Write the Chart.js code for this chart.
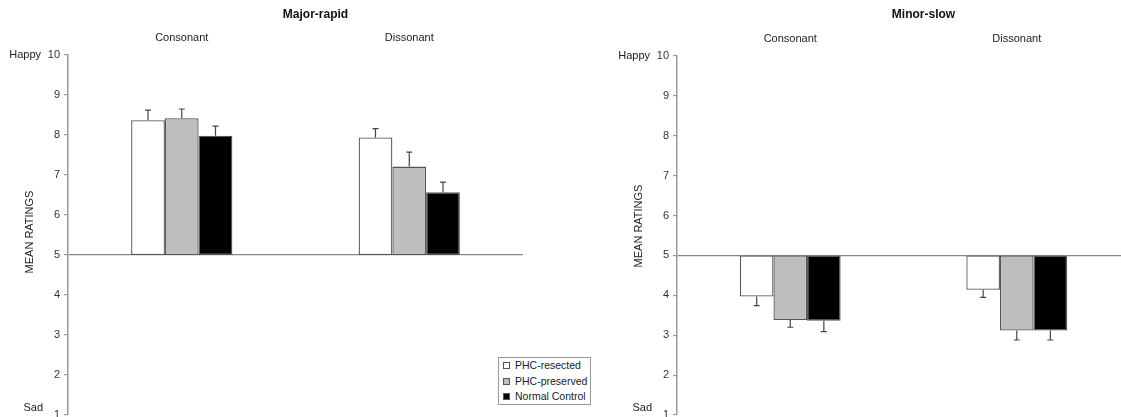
<!DOCTYPE html>
<html>
<head>
<meta charset="utf-8">
<script src="https://cdn.jsdelivr.net/npm/chart.js@4/dist/chart.umd.min.js"></script>
<style>
    html, body { margin: 0; padding: 0; background: #fff; }
    body { width: 1121px; height: 417px; overflow: hidden; position: relative; font-family: "Liberation Sans", Arial, sans-serif; }
    #left-wrap { position: absolute; left: 0; top: 0; width: 600px; height: 430px; }
    #right-wrap { position: absolute; left: 600px; top: 0; width: 560px; height: 430px; }
    #legend { position: absolute; left: 498px; top: 357px; width: 91px; height: 46px; border: 1px solid #999; background: #fff; }
    .legend-row { height: 15.5px; line-height: 15.5px; font-size: 10.5px; color: #222; white-space: nowrap; padding-left: 4px; }
    .legend-box { display: inline-block; width: 5px; height: 5px; border: 1px solid #555; margin-right: 5px; vertical-align: 0px; }
</style>
</head>
<body>
<div id="left-wrap"><canvas id="major-chart" width="600" height="430"></canvas></div>
<div id="right-wrap"><canvas id="minor-chart" width="560" height="430"></canvas></div>
<div id="legend"></div>
<script>
const categories = ['Consonant', 'Dissonant'];
const seriesNames = ['PHC-resected', 'PHC-preserved', 'Normal Control'];
const seriesColors = ['#ffffff', '#bebebe', '#000000'];
const BASELINE = 5;
const Y_MIN = 1;
const Y_MAX = 10;

// Major-rapid
const majorResected = [8.37, 7.94];
const majorPreserved = [8.42, 7.21];
const majorControl = [7.98, 6.57];
const majorResectedErr = [0.25, 0.22];
const majorPreservedErr = [0.23, 0.36];
const majorControlErr = [0.24, 0.25];

// Minor-slow
const minorResected = [3.97, 4.14];
const minorPreserved = [3.38, 3.12];
const minorControl = [3.36, 3.12];
const minorResectedErr = [0.23, 0.19];
const minorPreservedErr = [0.18, 0.24];
const minorControlErr = [0.27, 0.24];

const FONT = '"Liberation Sans", Arial, sans-serif';

// error bars, drawn away from the baseline
const errorBarPlugin = {
    id: 'errorBars',
    afterDatasetsDraw(chart) {
        const ctx = chart.ctx;
        const yScale = chart.scales.y;
        ctx.save();
        ctx.strokeStyle = '#444';
        ctx.lineWidth = 1.2;
        chart.data.datasets.forEach((ds, i) => {
            const meta = chart.getDatasetMeta(i);
            meta.data.forEach((bar, j) => {
                const value = ds.data[j][1];
                const dir = value >= BASELINE ? 1 : -1;
                const y0 = yScale.getPixelForValue(value);
                const y1 = yScale.getPixelForValue(value + dir * ds.errors[j]);
                ctx.beginPath();
                ctx.moveTo(bar.x, y0);
                ctx.lineTo(bar.x, y1);
                ctx.moveTo(bar.x - 3, y1);
                ctx.lineTo(bar.x + 3, y1);
                ctx.stroke();
            });
        });
        ctx.restore();
    }
};

// title, Happy / Sad and the rotated axis label
const sideTextPlugin = {
    id: 'sideText',
    afterDraw(chart, args, opts) {
        const ctx = chart.ctx;
        const area = chart.chartArea;
        const yScale = chart.scales.y;
        ctx.save();
        ctx.fillStyle = '#111';
        ctx.font = 'bold 12px ' + FONT;
        ctx.textAlign = 'center';
        ctx.textBaseline = 'middle';
        ctx.fillText(opts.title, (area.left + area.right) / 2 + 20, 15);

        ctx.fillStyle = '#222';
        ctx.font = '11px ' + FONT;
        ctx.textAlign = 'right';
        ctx.fillText('Happy', area.left - 27, yScale.getPixelForValue(Y_MAX));
        ctx.fillText('Sad', area.left - 25, yScale.getPixelForValue(Y_MIN) - 7);

        ctx.translate(area.left - 38, opts.labelY);
        ctx.rotate(-Math.PI / 2);
        ctx.textAlign = 'center';
        ctx.fillText('MEAN RATINGS', 0, 0);
        ctx.restore();
    }
};

function makeDatasets(values, errors) {
    return values.map((vals, i) => ({
        label: seriesNames[i],
        data: vals.map(v => [BASELINE, v]),
        errors: errors[i],
        backgroundColor: seriesColors[i],
        borderColor: '#555',
        borderWidth: 1.3,
        borderSkipped: false,
        categoryPercentage: 0.445,
        barPercentage: 1.0,
    }));
}

function makeChart(canvasId, title, values, errors, padding, yWidth, labelY) {
    return new Chart(document.getElementById(canvasId), {
        type: 'bar',
        data: {
            labels: categories,
            datasets: makeDatasets(values, errors),
        },
        options: {
            responsive: false,
            animation: false,
            layout: { padding: padding },
            plugins: {
                legend: { display: false },
                tooltip: { enabled: false },
                sideText: { title: title, labelY: labelY },
            },
            scales: {
                x: {
                    position: 'top',
                    grid: { display: false, drawTicks: false },
                    border: { display: false },
                    ticks: { color: '#222', font: { family: FONT, size: 11 }, padding: 10 },
                    afterFit(scale) { scale.height = 30; },
                },
                y: {
                    min: Y_MIN,
                    max: Y_MAX,
                    ticks: { stepSize: 1, color: '#333', font: { family: FONT, size: 11 }, padding: 4 },
                    grid: {
                        drawOnChartArea: true,
                        color: (c) => (c.tick && c.tick.value === BASELINE ? '#888' : 'rgba(0,0,0,0)'),
                        lineWidth: 1.2,
                        tickColor: '#999',
                        tickLength: 4,
                    },
                    border: { display: true, color: '#999', width: 1.5 },
                    afterFit(scale) { scale.width = yWidth; },
                },
            },
        },
        plugins: [errorBarPlugin, sideTextPlugin],
    });
}

makeChart('major-chart', 'Major-rapid',
    [majorResected, majorPreserved, majorControl],
    [majorResectedErr, majorPreservedErr, majorControlErr],
    { left: 0, right: 77, top: 25, bottom: 15 }, 68, 232);

makeChart('minor-chart', 'Minor-slow',
    [minorResected, minorPreserved, minorControl],
    [minorResectedErr, minorPreservedErr, minorControlErr],
    { left: 0, right: 30, top: 26, bottom: 15 }, 77, 226);

// legend built from the series arrays
document.getElementById('legend').innerHTML = seriesNames.map((name, i) => `
    <div class="legend-row"><span class="legend-box" style="background:${seriesColors[i]}"></span>${name}</div>
`).join('');
</script>
</body>
</html>
